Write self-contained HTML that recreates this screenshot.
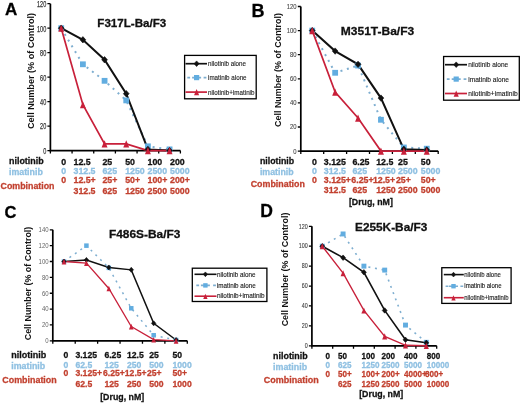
<!DOCTYPE html>
<html><head><meta charset="utf-8"><title>Nilotinib imatinib combination</title>
<style>html,body{margin:0;padding:0;background:#fff;width:520px;height:403px;overflow:hidden}svg{display:block;will-change:transform;font-family:"Liberation Sans", sans-serif}</style></head><body>
<svg width="520" height="403" viewBox="0 0 520 403">
<rect width="520" height="403" fill="#fff"/>
<g>
<text x="5" y="15" font-size="17" font-weight="bold" fill="#000" text-anchor="start" stroke="#000" stroke-width="0.28">A</text>
<text x="97.3" y="27.4" font-size="10.9" font-weight="bold" fill="#111" text-anchor="start" textLength="69" lengthAdjust="spacingAndGlyphs" stroke="#111" stroke-width="0.28">F317L-Ba/F3</text>
<text transform="translate(34.4,71) rotate(-90)" x="0" y="0" font-size="9" font-weight="bold" fill="#111" text-anchor="middle" textLength="116" lengthAdjust="spacingAndGlyphs">Cell Number (% of Control)</text>
<path d="M50.4 3.7V150.6H180.4" fill="none" stroke="#000" stroke-width="1.7"/>
<path d="M47.4 150.6H50.4M47.4 126.12H50.4M47.4 101.63H50.4M47.4 77.15H50.4M47.4 52.67H50.4M47.4 28.18H50.4M47.4 3.7H50.4M50.4 150.6V153.6M72.07 150.6V153.6M93.73 150.6V153.6M115.4 150.6V153.6M137.07 150.6V153.6M158.73 150.6V153.6M180.4 150.6V153.6" stroke="#000" stroke-width="1.3" fill="none"/>
<text x="46.2" y="153.95" font-size="9.3" font-weight="normal" fill="#333" text-anchor="end" textLength="3.07" lengthAdjust="spacingAndGlyphs" stroke="#333" stroke-width="0.25">0</text>
<text x="46.2" y="129.47" font-size="9.3" font-weight="normal" fill="#333" text-anchor="end" textLength="6.13" lengthAdjust="spacingAndGlyphs" stroke="#333" stroke-width="0.25">20</text>
<text x="46.2" y="104.98" font-size="9.3" font-weight="normal" fill="#333" text-anchor="end" textLength="6.13" lengthAdjust="spacingAndGlyphs" stroke="#333" stroke-width="0.25">40</text>
<text x="46.2" y="80.5" font-size="9.3" font-weight="normal" fill="#333" text-anchor="end" textLength="6.13" lengthAdjust="spacingAndGlyphs" stroke="#333" stroke-width="0.25">60</text>
<text x="46.2" y="56.02" font-size="9.3" font-weight="normal" fill="#333" text-anchor="end" textLength="6.13" lengthAdjust="spacingAndGlyphs" stroke="#333" stroke-width="0.25">80</text>
<text x="46.2" y="31.53" font-size="9.3" font-weight="normal" fill="#333" text-anchor="end" textLength="9.2" lengthAdjust="spacingAndGlyphs" stroke="#333" stroke-width="0.25">100</text>
<text x="46.2" y="7.05" font-size="9.3" font-weight="normal" fill="#333" text-anchor="end" textLength="9.2" lengthAdjust="spacingAndGlyphs" stroke="#333" stroke-width="0.25">120</text>
<polyline points="61.23,28.18 82.9,64.3 104.57,80.82 126.23,100.41 147.9,146.32 169.57,149.38" fill="none" stroke="#7EAED0" stroke-width="2" stroke-dasharray="2 4.7"/>
<polyline points="61.23,28.18 82.9,39.81 104.57,59.77 126.23,93.68 147.9,149.38 169.57,150.6" fill="none" stroke="#111" stroke-width="2"/>
<polyline points="61.23,28.18 82.9,104.69 104.57,143.87 126.23,143.87 147.9,150.6 169.57,150.6" fill="none" stroke="#C8203A" stroke-width="1.7"/>
<rect x="58.33" y="25.28" width="5.8" height="5.8" fill="#62ADE0"/>
<rect x="80" y="61.4" width="5.8" height="5.8" fill="#62ADE0"/>
<rect x="101.67" y="77.92" width="5.8" height="5.8" fill="#62ADE0"/>
<rect x="123.33" y="97.51" width="5.8" height="5.8" fill="#62ADE0"/>
<rect x="145" y="143.42" width="5.8" height="5.8" fill="#62ADE0"/>
<rect x="166.67" y="146.48" width="5.8" height="5.8" fill="#62ADE0"/>
<path d="M61.23 24.98L64.11 28.18L61.23 31.38L58.35 28.18Z" fill="#111" stroke="#111" stroke-width="0.6" stroke-linejoin="round"/>
<path d="M82.9 36.61L85.78 39.81L82.9 43.01L80.02 39.81Z" fill="#111" stroke="#111" stroke-width="0.6" stroke-linejoin="round"/>
<path d="M104.57 56.57L107.45 59.77L104.57 62.97L101.69 59.77Z" fill="#111" stroke="#111" stroke-width="0.6" stroke-linejoin="round"/>
<path d="M126.23 90.48L129.11 93.68L126.23 96.88L123.35 93.68Z" fill="#111" stroke="#111" stroke-width="0.6" stroke-linejoin="round"/>
<path d="M147.9 146.18L150.78 149.38L147.9 152.58L145.02 149.38Z" fill="#111" stroke="#111" stroke-width="0.6" stroke-linejoin="round"/>
<path d="M169.57 147.4L172.45 150.6L169.57 153.8L166.69 150.6Z" fill="#111" stroke="#111" stroke-width="0.6" stroke-linejoin="round"/>
<path d="M61.23 24.68L64.21 31.86L58.26 31.86Z" fill="#C8203A"/>
<path d="M82.9 101.19L85.88 108.37L79.93 108.37Z" fill="#C8203A"/>
<path d="M104.57 140.37L107.54 147.54L101.59 147.54Z" fill="#C8203A"/>
<path d="M126.23 140.37L129.21 147.54L123.26 147.54Z" fill="#C8203A"/>
<path d="M147.9 147.1L150.88 154.28L144.93 154.28Z" fill="#C8203A"/>
<path d="M169.57 147.1L172.54 154.28L166.59 154.28Z" fill="#C8203A"/>
<rect x="184.6" y="55.4" width="71.6" height="43.4" fill="#fff" stroke="#000" stroke-width="1.3"/>
<path d="M185.5 63.7H207" stroke="#111" stroke-width="1.7"/>
<path d="M196.6 60.9L199.12 63.7L196.6 66.5L194.08 63.7Z" fill="#111" stroke="#111" stroke-width="0.6" stroke-linejoin="round"/>
<path d="M187.3 77.6h2.8M192.1 77.6h9M203.6 77.6h2.8" stroke="#7EAED0" stroke-width="1.7"/>
<rect x="194" y="75" width="5.2" height="5.2" fill="#62ADE0"/>
<path d="M185.5 92.1H207" stroke="#C8203A" stroke-width="1.7"/>
<path d="M196.6 89.1L199.15 95.25L194.05 95.25Z" fill="#C8203A"/>
<text x="208" y="66.33" font-size="7.3" font-weight="normal" fill="#1a1a1a" text-anchor="start" textLength="38" lengthAdjust="spacingAndGlyphs" stroke="#1a1a1a" stroke-width="0.12">nilotinib alone</text>
<text x="208" y="80.23" font-size="7.3" font-weight="normal" fill="#1a1a1a" text-anchor="start" textLength="38.6" lengthAdjust="spacingAndGlyphs" stroke="#1a1a1a" stroke-width="0.12">imatinib alone</text>
<text x="208" y="94.73" font-size="7.3" font-weight="normal" fill="#1a1a1a" text-anchor="start" textLength="46.5" lengthAdjust="spacingAndGlyphs" stroke="#1a1a1a" stroke-width="0.12">nilotinib+imatinib</text>
<text x="9" y="164" font-size="9" font-weight="bold" fill="#111" text-anchor="start" textLength="34.7" lengthAdjust="spacingAndGlyphs" stroke="#111" stroke-width="0.28">nilotinib</text>
<text x="9" y="174.8" font-size="9" font-weight="bold" fill="#8FC0E2" text-anchor="start" textLength="33.8" lengthAdjust="spacingAndGlyphs" stroke="#8FC0E2" stroke-width="0.28">imatinib</text>
<text x="0.5" y="188.5" font-size="9" font-weight="bold" fill="#C2402F" text-anchor="start" textLength="54" lengthAdjust="spacingAndGlyphs" stroke="#C2402F" stroke-width="0.28">Combination</text>
<text x="61.3" y="164.5" font-size="8.8" font-weight="bold" fill="#111" text-anchor="start" stroke="#111" stroke-width="0.28">0</text>
<text x="73.5" y="164.5" font-size="8.8" font-weight="bold" fill="#111" text-anchor="start" stroke="#111" stroke-width="0.28">12.5</text>
<text x="102.4" y="164.5" font-size="8.8" font-weight="bold" fill="#111" text-anchor="start" stroke="#111" stroke-width="0.28">25</text>
<text x="125.2" y="164.5" font-size="8.8" font-weight="bold" fill="#111" text-anchor="start" stroke="#111" stroke-width="0.28">50</text>
<text x="147.5" y="164.5" font-size="8.8" font-weight="bold" fill="#111" text-anchor="start" stroke="#111" stroke-width="0.28">100</text>
<text x="170" y="164.5" font-size="8.8" font-weight="bold" fill="#111" text-anchor="start" stroke="#111" stroke-width="0.28">200</text>
<text x="61.3" y="174.3" font-size="8.8" font-weight="bold" fill="#8FC0E2" text-anchor="start" stroke="#8FC0E2" stroke-width="0.28">0</text>
<text x="73.5" y="174.3" font-size="8.8" font-weight="bold" fill="#8FC0E2" text-anchor="start" stroke="#8FC0E2" stroke-width="0.28">312.5</text>
<text x="102.4" y="174.3" font-size="8.8" font-weight="bold" fill="#8FC0E2" text-anchor="start" stroke="#8FC0E2" stroke-width="0.28">625</text>
<text x="125.2" y="174.3" font-size="8.8" font-weight="bold" fill="#8FC0E2" text-anchor="start" stroke="#8FC0E2" stroke-width="0.28">1250</text>
<text x="147.5" y="174.3" font-size="8.8" font-weight="bold" fill="#8FC0E2" text-anchor="start" stroke="#8FC0E2" stroke-width="0.28">2500</text>
<text x="170" y="174.3" font-size="8.8" font-weight="bold" fill="#8FC0E2" text-anchor="start" stroke="#8FC0E2" stroke-width="0.28">5000</text>
<text x="61.3" y="182.8" font-size="8.8" font-weight="bold" fill="#C2402F" text-anchor="start" stroke="#C2402F" stroke-width="0.28">0</text>
<text x="73.5" y="182.8" font-size="8.8" font-weight="bold" fill="#C2402F" text-anchor="start" stroke="#C2402F" stroke-width="0.28">12.5+</text>
<text x="102.4" y="182.8" font-size="8.8" font-weight="bold" fill="#C2402F" text-anchor="start" stroke="#C2402F" stroke-width="0.28">25+</text>
<text x="125.2" y="182.8" font-size="8.8" font-weight="bold" fill="#C2402F" text-anchor="start" stroke="#C2402F" stroke-width="0.28">50+</text>
<text x="147.5" y="182.8" font-size="8.8" font-weight="bold" fill="#C2402F" text-anchor="start" stroke="#C2402F" stroke-width="0.28">100+</text>
<text x="170" y="182.8" font-size="8.8" font-weight="bold" fill="#C2402F" text-anchor="start" stroke="#C2402F" stroke-width="0.28">200+</text>
<text x="73.5" y="193.7" font-size="8.8" font-weight="bold" fill="#C2402F" text-anchor="start" stroke="#C2402F" stroke-width="0.28">312.5</text>
<text x="102.4" y="193.7" font-size="8.8" font-weight="bold" fill="#C2402F" text-anchor="start" stroke="#C2402F" stroke-width="0.28">625</text>
<text x="125.2" y="193.7" font-size="8.8" font-weight="bold" fill="#C2402F" text-anchor="start" stroke="#C2402F" stroke-width="0.28">1250</text>
<text x="147.5" y="193.7" font-size="8.8" font-weight="bold" fill="#C2402F" text-anchor="start" stroke="#C2402F" stroke-width="0.28">2500</text>
<text x="170" y="193.7" font-size="8.8" font-weight="bold" fill="#C2402F" text-anchor="start" stroke="#C2402F" stroke-width="0.28">5000</text>
</g>
<g>
<text x="251.6" y="16.7" font-size="18" font-weight="bold" fill="#000" text-anchor="start" stroke="#000" stroke-width="0.28">B</text>
<text x="340.8" y="34.8" font-size="10.9" font-weight="bold" fill="#111" text-anchor="start" textLength="73.4" lengthAdjust="spacingAndGlyphs" stroke="#111" stroke-width="0.28">M351T-Ba/F3</text>
<text transform="translate(281.2,70) rotate(-90)" x="0" y="0" font-size="9" font-weight="bold" fill="#111" text-anchor="middle" textLength="113.8" lengthAdjust="spacingAndGlyphs">Cell Number (% of Control)</text>
<path d="M300.8 6.5V151.1H438.2" fill="none" stroke="#000" stroke-width="1.7"/>
<path d="M297.8 151.1H300.8M297.8 127H300.8M297.8 102.9H300.8M297.8 78.8H300.8M297.8 54.7H300.8M297.8 30.6H300.8M297.8 6.5H300.8M300.8 151.1V154.1M323.7 151.1V154.1M346.6 151.1V154.1M369.5 151.1V154.1M392.4 151.1V154.1M415.3 151.1V154.1M438.2 151.1V154.1" stroke="#000" stroke-width="1.3" fill="none"/>
<text x="296.6" y="153.55" font-size="7" font-weight="normal" fill="#444" text-anchor="end" textLength="3.27" lengthAdjust="spacingAndGlyphs" stroke="#444" stroke-width="0.1">0</text>
<text x="296.6" y="129.45" font-size="7" font-weight="normal" fill="#444" text-anchor="end" textLength="6.53" lengthAdjust="spacingAndGlyphs" stroke="#444" stroke-width="0.1">20</text>
<text x="296.6" y="105.35" font-size="7" font-weight="normal" fill="#444" text-anchor="end" textLength="6.53" lengthAdjust="spacingAndGlyphs" stroke="#444" stroke-width="0.1">40</text>
<text x="296.6" y="81.25" font-size="7" font-weight="normal" fill="#444" text-anchor="end" textLength="6.53" lengthAdjust="spacingAndGlyphs" stroke="#444" stroke-width="0.1">60</text>
<text x="296.6" y="57.15" font-size="7" font-weight="normal" fill="#444" text-anchor="end" textLength="6.53" lengthAdjust="spacingAndGlyphs" stroke="#444" stroke-width="0.1">80</text>
<text x="296.6" y="33.05" font-size="7" font-weight="normal" fill="#444" text-anchor="end" textLength="9.8" lengthAdjust="spacingAndGlyphs" stroke="#444" stroke-width="0.1">100</text>
<text x="296.6" y="8.95" font-size="7" font-weight="normal" fill="#444" text-anchor="end" textLength="9.8" lengthAdjust="spacingAndGlyphs" stroke="#444" stroke-width="0.1">120</text>
<polyline points="312.25,30.6 335.15,72.78 358.05,65.55 380.95,119.77 403.85,147.48 426.75,148.69" fill="none" stroke="#7EAED0" stroke-width="2" stroke-dasharray="2 4.7"/>
<polyline points="312.25,30.6 335.15,51.09 358.05,64.34 380.95,98.08 403.85,149.29 426.75,149.89" fill="none" stroke="#111" stroke-width="2"/>
<polyline points="312.25,30.6 335.15,92.06 358.05,117.96 380.95,151.1 403.85,151.1 426.75,151.1" fill="none" stroke="#C8203A" stroke-width="1.7"/>
<rect x="309.35" y="27.7" width="5.8" height="5.8" fill="#62ADE0"/>
<rect x="332.25" y="69.88" width="5.8" height="5.8" fill="#62ADE0"/>
<rect x="355.15" y="62.65" width="5.8" height="5.8" fill="#62ADE0"/>
<rect x="378.05" y="116.87" width="5.8" height="5.8" fill="#62ADE0"/>
<rect x="400.95" y="144.58" width="5.8" height="5.8" fill="#62ADE0"/>
<rect x="423.85" y="145.79" width="5.8" height="5.8" fill="#62ADE0"/>
<path d="M312.25 27.4L315.13 30.6L312.25 33.8L309.37 30.6Z" fill="#111" stroke="#111" stroke-width="0.6" stroke-linejoin="round"/>
<path d="M335.15 47.89L338.03 51.09L335.15 54.29L332.27 51.09Z" fill="#111" stroke="#111" stroke-width="0.6" stroke-linejoin="round"/>
<path d="M358.05 61.14L360.93 64.34L358.05 67.54L355.17 64.34Z" fill="#111" stroke="#111" stroke-width="0.6" stroke-linejoin="round"/>
<path d="M380.95 94.88L383.83 98.08L380.95 101.28L378.07 98.08Z" fill="#111" stroke="#111" stroke-width="0.6" stroke-linejoin="round"/>
<path d="M403.85 146.09L406.73 149.29L403.85 152.49L400.97 149.29Z" fill="#111" stroke="#111" stroke-width="0.6" stroke-linejoin="round"/>
<path d="M426.75 146.69L429.63 149.89L426.75 153.09L423.87 149.89Z" fill="#111" stroke="#111" stroke-width="0.6" stroke-linejoin="round"/>
<path d="M312.25 27.1L315.23 34.28L309.27 34.28Z" fill="#C8203A"/>
<path d="M335.15 88.56L338.12 95.73L332.17 95.73Z" fill="#C8203A"/>
<path d="M358.05 114.46L361.03 121.64L355.07 121.64Z" fill="#C8203A"/>
<path d="M380.95 147.6L383.93 154.78L377.97 154.78Z" fill="#C8203A"/>
<path d="M403.85 147.6L406.83 154.78L400.88 154.78Z" fill="#C8203A"/>
<path d="M426.75 147.6L429.73 154.78L423.77 154.78Z" fill="#C8203A"/>
<rect x="443.6" y="56.5" width="75.7" height="43.7" fill="#fff" stroke="#000" stroke-width="1.3"/>
<path d="M445 64.7H467" stroke="#111" stroke-width="1.7"/>
<path d="M456.2 61.9L458.72 64.7L456.2 67.5L453.68 64.7Z" fill="#111" stroke="#111" stroke-width="0.6" stroke-linejoin="round"/>
<path d="M446.8 79.1h2.8M451.7 79.1h9M463.6 79.1h2.8" stroke="#7EAED0" stroke-width="1.7"/>
<rect x="453.6" y="76.5" width="5.2" height="5.2" fill="#62ADE0"/>
<path d="M445 93.5H467" stroke="#C8203A" stroke-width="1.7"/>
<path d="M456.2 90.5L458.75 96.65L453.65 96.65Z" fill="#C8203A"/>
<text x="468.2" y="67.33" font-size="7.3" font-weight="normal" fill="#1a1a1a" text-anchor="start" textLength="40" lengthAdjust="spacingAndGlyphs" stroke="#1a1a1a" stroke-width="0.12">nilotinib alone</text>
<text x="468.2" y="81.73" font-size="7.3" font-weight="normal" fill="#1a1a1a" text-anchor="start" textLength="40.8" lengthAdjust="spacingAndGlyphs" stroke="#1a1a1a" stroke-width="0.12">imatinib alone</text>
<text x="468.2" y="96.13" font-size="7.3" font-weight="normal" fill="#1a1a1a" text-anchor="start" textLength="49.5" lengthAdjust="spacingAndGlyphs" stroke="#1a1a1a" stroke-width="0.12">nilotinib+imatinib</text>
<text x="259.9" y="163.8" font-size="9" font-weight="bold" fill="#111" text-anchor="start" textLength="34.3" lengthAdjust="spacingAndGlyphs" stroke="#111" stroke-width="0.28">nilotinib</text>
<text x="259.9" y="174.7" font-size="9" font-weight="bold" fill="#8FC0E2" text-anchor="start" textLength="33.7" lengthAdjust="spacingAndGlyphs" stroke="#8FC0E2" stroke-width="0.28">imatinib</text>
<text x="250.7" y="187.2" font-size="9" font-weight="bold" fill="#C2402F" text-anchor="start" textLength="54.2" lengthAdjust="spacingAndGlyphs" stroke="#C2402F" stroke-width="0.28">Combination</text>
<text x="312" y="164.6" font-size="8.8" font-weight="bold" fill="#111" text-anchor="start" stroke="#111" stroke-width="0.28">0</text>
<text x="323.8" y="164.6" font-size="8.8" font-weight="bold" fill="#111" text-anchor="start" stroke="#111" stroke-width="0.28">3.125</text>
<text x="352.4" y="164.6" font-size="8.8" font-weight="bold" fill="#111" text-anchor="start" stroke="#111" stroke-width="0.28">6.25</text>
<text x="376.2" y="164.6" font-size="8.8" font-weight="bold" fill="#111" text-anchor="start" stroke="#111" stroke-width="0.28">12.5</text>
<text x="398" y="164.6" font-size="8.8" font-weight="bold" fill="#111" text-anchor="start" stroke="#111" stroke-width="0.28">25</text>
<text x="420.8" y="164.6" font-size="8.8" font-weight="bold" fill="#111" text-anchor="start" stroke="#111" stroke-width="0.28">50</text>
<text x="312" y="173.8" font-size="8.8" font-weight="bold" fill="#8FC0E2" text-anchor="start" stroke="#8FC0E2" stroke-width="0.28">0</text>
<text x="323.8" y="173.8" font-size="8.8" font-weight="bold" fill="#8FC0E2" text-anchor="start" stroke="#8FC0E2" stroke-width="0.28">312.5</text>
<text x="352.4" y="173.8" font-size="8.8" font-weight="bold" fill="#8FC0E2" text-anchor="start" stroke="#8FC0E2" stroke-width="0.28">625</text>
<text x="376.2" y="173.8" font-size="8.8" font-weight="bold" fill="#8FC0E2" text-anchor="start" stroke="#8FC0E2" stroke-width="0.28">1250</text>
<text x="398" y="173.8" font-size="8.8" font-weight="bold" fill="#8FC0E2" text-anchor="start" stroke="#8FC0E2" stroke-width="0.28">2500</text>
<text x="420.8" y="173.8" font-size="8.8" font-weight="bold" fill="#8FC0E2" text-anchor="start" stroke="#8FC0E2" stroke-width="0.28">5000</text>
<text x="312" y="182.5" font-size="8.8" font-weight="bold" fill="#C2402F" text-anchor="start" stroke="#C2402F" stroke-width="0.28">0</text>
<text x="323.8" y="182.5" font-size="8.8" font-weight="bold" fill="#C2402F" text-anchor="start" stroke="#C2402F" stroke-width="0.28">3.125+</text>
<text x="351.3" y="182.5" font-size="8.8" font-weight="bold" fill="#C2402F" text-anchor="start" stroke="#C2402F" stroke-width="0.28">6.25+</text>
<text x="372.9" y="182.5" font-size="8.8" font-weight="bold" fill="#C2402F" text-anchor="start" stroke="#C2402F" stroke-width="0.28">12.5+</text>
<text x="395.9" y="182.5" font-size="8.8" font-weight="bold" fill="#C2402F" text-anchor="start" stroke="#C2402F" stroke-width="0.28">25+</text>
<text x="420.8" y="182.5" font-size="8.8" font-weight="bold" fill="#C2402F" text-anchor="start" stroke="#C2402F" stroke-width="0.28">50+</text>
<text x="323.8" y="193.2" font-size="8.8" font-weight="bold" fill="#C2402F" text-anchor="start" stroke="#C2402F" stroke-width="0.28">312.5</text>
<text x="352.4" y="193.2" font-size="8.8" font-weight="bold" fill="#C2402F" text-anchor="start" stroke="#C2402F" stroke-width="0.28">625</text>
<text x="376.2" y="193.2" font-size="8.8" font-weight="bold" fill="#C2402F" text-anchor="start" stroke="#C2402F" stroke-width="0.28">1250</text>
<text x="398" y="193.2" font-size="8.8" font-weight="bold" fill="#C2402F" text-anchor="start" stroke="#C2402F" stroke-width="0.28">2500</text>
<text x="420.8" y="193.2" font-size="8.8" font-weight="bold" fill="#C2402F" text-anchor="start" stroke="#C2402F" stroke-width="0.28">5000</text>
<text x="348.9" y="205" font-size="9" font-weight="bold" fill="#111" text-anchor="start" textLength="44" lengthAdjust="spacingAndGlyphs" stroke="#111" stroke-width="0.28">[Drug, nM]</text>
</g>
<g>
<text x="4.6" y="218.2" font-size="16.5" font-weight="bold" fill="#000" text-anchor="start" stroke="#000" stroke-width="0.28">C</text>
<text x="108.9" y="237.9" font-size="10.9" font-weight="bold" fill="#111" text-anchor="start" textLength="71.5" lengthAdjust="spacingAndGlyphs" stroke="#111" stroke-width="0.28">F486S-Ba/F3</text>
<text transform="translate(30.6,283.5) rotate(-90)" x="0" y="0" font-size="9" font-weight="bold" fill="#111" text-anchor="middle" textLength="113.5" lengthAdjust="spacingAndGlyphs">Cell Number (% of Control)</text>
<path d="M52.8 229.8V340.8H187.3" fill="none" stroke="#000" stroke-width="1.7"/>
<path d="M49.8 340.8H52.8M49.8 324.94H52.8M49.8 309.09H52.8M49.8 293.23H52.8M49.8 277.37H52.8M49.8 261.51H52.8M49.8 245.66H52.8M49.8 229.8H52.8M52.8 340.8V343.8M75.22 340.8V343.8M97.63 340.8V343.8M120.05 340.8V343.8M142.47 340.8V343.8M164.88 340.8V343.8M187.3 340.8V343.8" stroke="#000" stroke-width="1.3" fill="none"/>
<text x="48.6" y="343.2" font-size="6.8" font-weight="normal" fill="#666" text-anchor="end" textLength="3.33" lengthAdjust="spacingAndGlyphs">0</text>
<text x="48.6" y="327.34" font-size="6.8" font-weight="normal" fill="#666" text-anchor="end" textLength="6.67" lengthAdjust="spacingAndGlyphs">20</text>
<text x="48.6" y="311.49" font-size="6.8" font-weight="normal" fill="#666" text-anchor="end" textLength="6.67" lengthAdjust="spacingAndGlyphs">40</text>
<text x="48.6" y="295.63" font-size="6.8" font-weight="normal" fill="#666" text-anchor="end" textLength="6.67" lengthAdjust="spacingAndGlyphs">60</text>
<text x="48.6" y="279.77" font-size="6.8" font-weight="normal" fill="#666" text-anchor="end" textLength="6.67" lengthAdjust="spacingAndGlyphs">80</text>
<text x="48.6" y="263.91" font-size="6.8" font-weight="normal" fill="#666" text-anchor="end" textLength="10" lengthAdjust="spacingAndGlyphs">100</text>
<text x="48.6" y="248.06" font-size="6.8" font-weight="normal" fill="#666" text-anchor="end" textLength="10" lengthAdjust="spacingAndGlyphs">120</text>
<text x="48.6" y="232.2" font-size="6.8" font-weight="normal" fill="#666" text-anchor="end" textLength="10" lengthAdjust="spacingAndGlyphs">140</text>
<polyline points="64.01,261.51 86.42,245.66 108.84,267.86 131.26,308.29 153.68,335.25 176.09,340.01" fill="none" stroke="#7EAED0" stroke-width="1.5" stroke-dasharray="2 4.7"/>
<polyline points="64.01,261.51 86.42,259.93 108.84,267.46 131.26,269.84 153.68,323.36 176.09,340.01" fill="none" stroke="#111" stroke-width="1.5"/>
<polyline points="64.01,261.51 86.42,263.1 108.84,288.47 131.26,326.53 153.68,339.61 176.09,340.8" fill="none" stroke="#C8203A" stroke-width="1.275"/>
<rect x="61.75" y="259.25" width="4.52" height="4.52" fill="#62ADE0"/>
<rect x="84.16" y="243.4" width="4.52" height="4.52" fill="#62ADE0"/>
<rect x="106.58" y="265.6" width="4.52" height="4.52" fill="#62ADE0"/>
<rect x="129" y="306.03" width="4.52" height="4.52" fill="#62ADE0"/>
<rect x="151.41" y="332.99" width="4.52" height="4.52" fill="#62ADE0"/>
<rect x="173.83" y="337.75" width="4.52" height="4.52" fill="#62ADE0"/>
<path d="M64.01 259.02L66.25 261.51L64.01 264.01L61.76 261.51Z" fill="#111" stroke="#111" stroke-width="0.6" stroke-linejoin="round"/>
<path d="M86.42 257.43L88.67 259.93L86.42 262.42L84.18 259.93Z" fill="#111" stroke="#111" stroke-width="0.6" stroke-linejoin="round"/>
<path d="M108.84 264.96L111.09 267.46L108.84 269.96L106.6 267.46Z" fill="#111" stroke="#111" stroke-width="0.6" stroke-linejoin="round"/>
<path d="M131.26 267.34L133.5 269.84L131.26 272.34L129.01 269.84Z" fill="#111" stroke="#111" stroke-width="0.6" stroke-linejoin="round"/>
<path d="M153.68 320.86L155.92 323.36L153.68 325.85L151.43 323.36Z" fill="#111" stroke="#111" stroke-width="0.6" stroke-linejoin="round"/>
<path d="M176.09 337.51L178.34 340.01L176.09 342.5L173.85 340.01Z" fill="#111" stroke="#111" stroke-width="0.6" stroke-linejoin="round"/>
<path d="M64.01 258.78L66.33 264.38L61.69 264.38Z" fill="#C8203A"/>
<path d="M86.42 260.37L88.75 265.97L84.1 265.97Z" fill="#C8203A"/>
<path d="M108.84 285.74L111.16 291.34L106.52 291.34Z" fill="#C8203A"/>
<path d="M131.26 323.8L133.58 329.4L128.94 329.4Z" fill="#C8203A"/>
<path d="M153.68 336.88L156 342.48L151.35 342.48Z" fill="#C8203A"/>
<path d="M176.09 338.07L178.41 343.67L173.77 343.67Z" fill="#C8203A"/>
<rect x="192.3" y="268.2" width="74.6" height="33.3" fill="#fff" stroke="#000" stroke-width="1.3"/>
<path d="M194.5 274.3H216.5" stroke="#111" stroke-width="1.6"/>
<path d="M205.4 271.92L207.54 274.3L205.4 276.68L203.26 274.3Z" fill="#111" stroke="#111" stroke-width="0.6" stroke-linejoin="round"/>
<path d="M196.3 285.4h2.8M200.9 285.4h9M213.1 285.4h2.8" stroke="#7EAED0" stroke-width="1.6"/>
<rect x="203.19" y="283.19" width="4.42" height="4.42" fill="#62ADE0"/>
<path d="M194.5 296.2H216.5" stroke="#C8203A" stroke-width="1.6"/>
<path d="M205.4 293.65L207.57 298.88L203.23 298.88Z" fill="#C8203A"/>
<text x="216.9" y="276.57" font-size="6.3" font-weight="normal" fill="#1a1a1a" text-anchor="start" textLength="38.5" lengthAdjust="spacingAndGlyphs" stroke="#1a1a1a" stroke-width="0.12">nilotinib alone</text>
<text x="216.9" y="287.67" font-size="6.3" font-weight="normal" fill="#1a1a1a" text-anchor="start" textLength="38.8" lengthAdjust="spacingAndGlyphs" stroke="#1a1a1a" stroke-width="0.12">imatinib alone</text>
<text x="216.9" y="298.47" font-size="6.3" font-weight="normal" fill="#1a1a1a" text-anchor="start" textLength="47.7" lengthAdjust="spacingAndGlyphs" stroke="#1a1a1a" stroke-width="0.12">nilotinib+imatinib</text>
<text x="11.2" y="358.3" font-size="9" font-weight="bold" fill="#111" text-anchor="start" textLength="35" lengthAdjust="spacingAndGlyphs" stroke="#111" stroke-width="0.28">nilotinib</text>
<text x="11.2" y="368.8" font-size="9" font-weight="bold" fill="#8FC0E2" text-anchor="start" textLength="34" lengthAdjust="spacingAndGlyphs" stroke="#8FC0E2" stroke-width="0.28">imatinib</text>
<text x="2.3" y="382.7" font-size="9" font-weight="bold" fill="#C2402F" text-anchor="start" textLength="54.4" lengthAdjust="spacingAndGlyphs" stroke="#C2402F" stroke-width="0.28">Combination</text>
<g transform="translate(63.6,358.3) scale(0.97,1)"><text x="0" y="0" font-size="8.9" font-weight="bold" fill="#111" text-anchor="start" stroke="#111" stroke-width="0.28">0</text></g>
<g transform="translate(75.4,358.3) scale(0.97,1)"><text x="0" y="0" font-size="8.9" font-weight="bold" fill="#111" text-anchor="start" stroke="#111" stroke-width="0.28">3.125</text></g>
<g transform="translate(104.4,358.3) scale(0.97,1)"><text x="0" y="0" font-size="8.9" font-weight="bold" fill="#111" text-anchor="start" stroke="#111" stroke-width="0.28">6.25</text></g>
<g transform="translate(127,358.3) scale(0.97,1)"><text x="0" y="0" font-size="8.9" font-weight="bold" fill="#111" text-anchor="start" stroke="#111" stroke-width="0.28">12.5</text></g>
<g transform="translate(149.2,358.3) scale(0.97,1)"><text x="0" y="0" font-size="8.9" font-weight="bold" fill="#111" text-anchor="start" stroke="#111" stroke-width="0.28">25</text></g>
<g transform="translate(172.5,358.3) scale(0.97,1)"><text x="0" y="0" font-size="8.9" font-weight="bold" fill="#111" text-anchor="start" stroke="#111" stroke-width="0.28">50</text></g>
<g transform="translate(63.6,367.6) scale(0.97,1)"><text x="0" y="0" font-size="8.9" font-weight="bold" fill="#8FC0E2" text-anchor="start" stroke="#8FC0E2" stroke-width="0.28">0</text></g>
<g transform="translate(75.4,367.6) scale(0.97,1)"><text x="0" y="0" font-size="8.9" font-weight="bold" fill="#8FC0E2" text-anchor="start" stroke="#8FC0E2" stroke-width="0.28">62.5</text></g>
<g transform="translate(104.4,367.6) scale(0.97,1)"><text x="0" y="0" font-size="8.9" font-weight="bold" fill="#8FC0E2" text-anchor="start" stroke="#8FC0E2" stroke-width="0.28">125</text></g>
<g transform="translate(127,367.6) scale(0.97,1)"><text x="0" y="0" font-size="8.9" font-weight="bold" fill="#8FC0E2" text-anchor="start" stroke="#8FC0E2" stroke-width="0.28">250</text></g>
<g transform="translate(149.2,367.6) scale(0.97,1)"><text x="0" y="0" font-size="8.9" font-weight="bold" fill="#8FC0E2" text-anchor="start" stroke="#8FC0E2" stroke-width="0.28">500</text></g>
<g transform="translate(172.5,367.6) scale(0.97,1)"><text x="0" y="0" font-size="8.9" font-weight="bold" fill="#8FC0E2" text-anchor="start" stroke="#8FC0E2" stroke-width="0.28">1000</text></g>
<g transform="translate(63.6,376.2) scale(0.97,1)"><text x="0" y="0" font-size="8.9" font-weight="bold" fill="#C2402F" text-anchor="start" stroke="#C2402F" stroke-width="0.28">0</text></g>
<g transform="translate(75.4,376.2) scale(0.97,1)"><text x="0" y="0" font-size="8.9" font-weight="bold" fill="#C2402F" text-anchor="start" stroke="#C2402F" stroke-width="0.28">3.125+</text></g>
<g transform="translate(103,376.2) scale(0.97,1)"><text x="0" y="0" font-size="8.9" font-weight="bold" fill="#C2402F" text-anchor="start" stroke="#C2402F" stroke-width="0.28">6.25+</text></g>
<g transform="translate(124.8,376.2) scale(0.97,1)"><text x="0" y="0" font-size="8.9" font-weight="bold" fill="#C2402F" text-anchor="start" stroke="#C2402F" stroke-width="0.28">12.5+</text></g>
<g transform="translate(146.9,376.2) scale(0.97,1)"><text x="0" y="0" font-size="8.9" font-weight="bold" fill="#C2402F" text-anchor="start" stroke="#C2402F" stroke-width="0.28">25+</text></g>
<g transform="translate(172.5,376.2) scale(0.97,1)"><text x="0" y="0" font-size="8.9" font-weight="bold" fill="#C2402F" text-anchor="start" stroke="#C2402F" stroke-width="0.28">50+</text></g>
<g transform="translate(75.4,387) scale(0.97,1)"><text x="0" y="0" font-size="8.9" font-weight="bold" fill="#C2402F" text-anchor="start" stroke="#C2402F" stroke-width="0.28">62.5</text></g>
<g transform="translate(104.4,387) scale(0.97,1)"><text x="0" y="0" font-size="8.9" font-weight="bold" fill="#C2402F" text-anchor="start" stroke="#C2402F" stroke-width="0.28">125</text></g>
<g transform="translate(127,387) scale(0.97,1)"><text x="0" y="0" font-size="8.9" font-weight="bold" fill="#C2402F" text-anchor="start" stroke="#C2402F" stroke-width="0.28">250</text></g>
<g transform="translate(149.2,387) scale(0.97,1)"><text x="0" y="0" font-size="8.9" font-weight="bold" fill="#C2402F" text-anchor="start" stroke="#C2402F" stroke-width="0.28">500</text></g>
<g transform="translate(172.5,387) scale(0.97,1)"><text x="0" y="0" font-size="8.9" font-weight="bold" fill="#C2402F" text-anchor="start" stroke="#C2402F" stroke-width="0.28">1000</text></g>
<text x="100.2" y="400.4" font-size="9" font-weight="bold" fill="#111" text-anchor="start" textLength="44" lengthAdjust="spacingAndGlyphs" stroke="#111" stroke-width="0.28">[Drug, nM]</text>
</g>
<g>
<text x="260.2" y="216.9" font-size="17.5" font-weight="bold" fill="#000" text-anchor="start" stroke="#000" stroke-width="0.28">D</text>
<text x="355" y="230.8" font-size="10.9" font-weight="bold" fill="#111" text-anchor="start" textLength="72.3" lengthAdjust="spacingAndGlyphs" stroke="#111" stroke-width="0.28">E255K-Ba/F3</text>
<text transform="translate(288,269.5) rotate(-90)" x="0" y="0" font-size="9" font-weight="bold" fill="#111" text-anchor="middle" textLength="113.7" lengthAdjust="spacingAndGlyphs">Cell Number (% of Control)</text>
<path d="M311.9 226.3V345.8H436.7" fill="none" stroke="#000" stroke-width="1.7"/>
<path d="M308.9 345.8H311.9M308.9 325.88H311.9M308.9 305.97H311.9M308.9 286.05H311.9M308.9 266.13H311.9M308.9 246.22H311.9M308.9 226.3H311.9M311.9 345.8V348.8M332.7 345.8V348.8M353.5 345.8V348.8M374.3 345.8V348.8M395.1 345.8V348.8M415.9 345.8V348.8M436.7 345.8V348.8" stroke="#000" stroke-width="1.3" fill="none"/>
<text x="307.7" y="348.05" font-size="6.4" font-weight="normal" fill="#3c3c3c" text-anchor="end" textLength="2.97" lengthAdjust="spacingAndGlyphs" stroke="#3c3c3c" stroke-width="0.1">0</text>
<text x="307.7" y="328.13" font-size="6.4" font-weight="normal" fill="#3c3c3c" text-anchor="end" textLength="5.93" lengthAdjust="spacingAndGlyphs" stroke="#3c3c3c" stroke-width="0.1">20</text>
<text x="307.7" y="308.22" font-size="6.4" font-weight="normal" fill="#3c3c3c" text-anchor="end" textLength="5.93" lengthAdjust="spacingAndGlyphs" stroke="#3c3c3c" stroke-width="0.1">40</text>
<text x="307.7" y="288.3" font-size="6.4" font-weight="normal" fill="#3c3c3c" text-anchor="end" textLength="5.93" lengthAdjust="spacingAndGlyphs" stroke="#3c3c3c" stroke-width="0.1">60</text>
<text x="307.7" y="268.38" font-size="6.4" font-weight="normal" fill="#3c3c3c" text-anchor="end" textLength="5.93" lengthAdjust="spacingAndGlyphs" stroke="#3c3c3c" stroke-width="0.1">80</text>
<text x="307.7" y="248.47" font-size="6.4" font-weight="normal" fill="#3c3c3c" text-anchor="end" textLength="8.9" lengthAdjust="spacingAndGlyphs" stroke="#3c3c3c" stroke-width="0.1">100</text>
<text x="307.7" y="228.55" font-size="6.4" font-weight="normal" fill="#3c3c3c" text-anchor="end" textLength="8.9" lengthAdjust="spacingAndGlyphs" stroke="#3c3c3c" stroke-width="0.1">120</text>
<polyline points="322.3,246.22 343.1,233.97 363.9,266.13 384.7,270.12 405.5,325.09 426.3,342.31" fill="none" stroke="#7EAED0" stroke-width="1.6" stroke-dasharray="2 4.7"/>
<polyline points="322.3,246.22 343.1,257.67 363.9,272.31 384.7,310.45 405.5,339.82 426.3,342.81" fill="none" stroke="#111" stroke-width="1.6"/>
<polyline points="322.3,246.22 343.1,273.1 363.9,310.45 384.7,336.34 405.5,345.3 426.3,345.8" fill="none" stroke="#C8203A" stroke-width="1.36"/>
<rect x="319.83" y="243.75" width="4.93" height="4.93" fill="#62ADE0"/>
<rect x="340.63" y="231.5" width="4.93" height="4.93" fill="#62ADE0"/>
<rect x="361.44" y="263.67" width="4.93" height="4.93" fill="#62ADE0"/>
<rect x="382.24" y="267.65" width="4.93" height="4.93" fill="#62ADE0"/>
<rect x="403.04" y="322.62" width="4.93" height="4.93" fill="#62ADE0"/>
<rect x="423.83" y="339.85" width="4.93" height="4.93" fill="#62ADE0"/>
<path d="M322.3 243.5L324.75 246.22L322.3 248.94L319.85 246.22Z" fill="#111" stroke="#111" stroke-width="0.6" stroke-linejoin="round"/>
<path d="M343.1 254.95L345.55 257.67L343.1 260.39L340.65 257.67Z" fill="#111" stroke="#111" stroke-width="0.6" stroke-linejoin="round"/>
<path d="M363.9 269.59L366.35 272.31L363.9 275.03L361.45 272.31Z" fill="#111" stroke="#111" stroke-width="0.6" stroke-linejoin="round"/>
<path d="M384.7 307.73L387.15 310.45L384.7 313.17L382.25 310.45Z" fill="#111" stroke="#111" stroke-width="0.6" stroke-linejoin="round"/>
<path d="M405.5 337.1L407.95 339.82L405.5 342.55L403.05 339.82Z" fill="#111" stroke="#111" stroke-width="0.6" stroke-linejoin="round"/>
<path d="M426.3 340.09L428.75 342.81L426.3 345.53L423.85 342.81Z" fill="#111" stroke="#111" stroke-width="0.6" stroke-linejoin="round"/>
<path d="M322.3 243.24L324.83 249.34L319.77 249.34Z" fill="#C8203A"/>
<path d="M343.1 270.13L345.63 276.23L340.57 276.23Z" fill="#C8203A"/>
<path d="M363.9 307.47L366.43 313.57L361.37 313.57Z" fill="#C8203A"/>
<path d="M384.7 333.36L387.23 339.46L382.17 339.46Z" fill="#C8203A"/>
<path d="M405.5 342.33L408.03 348.43L402.97 348.43Z" fill="#C8203A"/>
<path d="M426.3 342.82L428.83 348.92L423.77 348.92Z" fill="#C8203A"/>
<rect x="441.8" y="267.7" width="69.3" height="35.7" fill="#fff" stroke="#000" stroke-width="1.3"/>
<path d="M443.8 274.6H463.8" stroke="#111" stroke-width="1.6"/>
<path d="M453.5 272.22L455.64 274.6L453.5 276.98L451.36 274.6Z" fill="#111" stroke="#111" stroke-width="0.6" stroke-linejoin="round"/>
<path d="M445.6 286.2h2.8M449 286.2h9M460.4 286.2h2.8" stroke="#7EAED0" stroke-width="1.6"/>
<rect x="451.29" y="283.99" width="4.42" height="4.42" fill="#62ADE0"/>
<path d="M443.8 297.7H463.8" stroke="#C8203A" stroke-width="1.6"/>
<path d="M453.5 295.15L455.67 300.38L451.33 300.38Z" fill="#C8203A"/>
<text x="464.3" y="276.87" font-size="6.3" font-weight="normal" fill="#1a1a1a" text-anchor="start" textLength="36.5" lengthAdjust="spacingAndGlyphs" stroke="#1a1a1a" stroke-width="0.12">nilotinib alone</text>
<text x="464.3" y="288.47" font-size="6.3" font-weight="normal" fill="#1a1a1a" text-anchor="start" textLength="37.2" lengthAdjust="spacingAndGlyphs" stroke="#1a1a1a" stroke-width="0.12">imatinib alone</text>
<text x="464.3" y="299.97" font-size="6.3" font-weight="normal" fill="#1a1a1a" text-anchor="start" textLength="44.2" lengthAdjust="spacingAndGlyphs" stroke="#1a1a1a" stroke-width="0.12">nilotinib+imatinib</text>
<text x="273.1" y="358.8" font-size="9" font-weight="bold" fill="#111" text-anchor="start" textLength="34.6" lengthAdjust="spacingAndGlyphs" stroke="#111" stroke-width="0.28">nilotinib</text>
<text x="273.1" y="369.6" font-size="9" font-weight="bold" fill="#8FC0E2" text-anchor="start" textLength="34" lengthAdjust="spacingAndGlyphs" stroke="#8FC0E2" stroke-width="0.28">imatinib</text>
<text x="263.8" y="382.5" font-size="9" font-weight="bold" fill="#C2402F" text-anchor="start" textLength="54.9" lengthAdjust="spacingAndGlyphs" stroke="#C2402F" stroke-width="0.28">Combination</text>
<g transform="translate(325.6,359.1) scale(0.92,1)"><text x="0" y="0" font-size="8.8" font-weight="bold" fill="#111" text-anchor="start" stroke="#111" stroke-width="0.28">0</text></g>
<g transform="translate(337.9,359.1) scale(0.92,1)"><text x="0" y="0" font-size="8.8" font-weight="bold" fill="#111" text-anchor="start" stroke="#111" stroke-width="0.28">50</text></g>
<g transform="translate(361.6,359.1) scale(0.92,1)"><text x="0" y="0" font-size="8.8" font-weight="bold" fill="#111" text-anchor="start" stroke="#111" stroke-width="0.28">100</text></g>
<g transform="translate(381.5,359.1) scale(0.92,1)"><text x="0" y="0" font-size="8.8" font-weight="bold" fill="#111" text-anchor="start" stroke="#111" stroke-width="0.28">200</text></g>
<g transform="translate(404,359.1) scale(0.92,1)"><text x="0" y="0" font-size="8.8" font-weight="bold" fill="#111" text-anchor="start" stroke="#111" stroke-width="0.28">400</text></g>
<g transform="translate(426.8,359.1) scale(0.92,1)"><text x="0" y="0" font-size="8.8" font-weight="bold" fill="#111" text-anchor="start" stroke="#111" stroke-width="0.28">800</text></g>
<g transform="translate(325.6,368) scale(0.92,1)"><text x="0" y="0" font-size="8.8" font-weight="bold" fill="#8FC0E2" text-anchor="start" stroke="#8FC0E2" stroke-width="0.28">0</text></g>
<g transform="translate(337.9,368) scale(0.92,1)"><text x="0" y="0" font-size="8.8" font-weight="bold" fill="#8FC0E2" text-anchor="start" stroke="#8FC0E2" stroke-width="0.28">625</text></g>
<g transform="translate(361.6,368) scale(0.92,1)"><text x="0" y="0" font-size="8.8" font-weight="bold" fill="#8FC0E2" text-anchor="start" stroke="#8FC0E2" stroke-width="0.28">1250</text></g>
<g transform="translate(381.5,368) scale(0.92,1)"><text x="0" y="0" font-size="8.8" font-weight="bold" fill="#8FC0E2" text-anchor="start" stroke="#8FC0E2" stroke-width="0.28">2500</text></g>
<g transform="translate(404,368) scale(0.92,1)"><text x="0" y="0" font-size="8.8" font-weight="bold" fill="#8FC0E2" text-anchor="start" stroke="#8FC0E2" stroke-width="0.28">5000</text></g>
<g transform="translate(426.8,368) scale(0.92,1)"><text x="0" y="0" font-size="8.8" font-weight="bold" fill="#8FC0E2" text-anchor="start" stroke="#8FC0E2" stroke-width="0.28">10000</text></g>
<g transform="translate(325.6,376.7) scale(0.92,1)"><text x="0" y="0" font-size="8.8" font-weight="bold" fill="#C2402F" text-anchor="start" stroke="#C2402F" stroke-width="0.28">0</text></g>
<g transform="translate(337.9,376.7) scale(0.92,1)"><text x="0" y="0" font-size="8.8" font-weight="bold" fill="#C2402F" text-anchor="start" stroke="#C2402F" stroke-width="0.28">50+</text></g>
<g transform="translate(361.6,376.7) scale(0.92,1)"><text x="0" y="0" font-size="8.8" font-weight="bold" fill="#C2402F" text-anchor="start" stroke="#C2402F" stroke-width="0.28">100+</text></g>
<g transform="translate(381.5,376.7) scale(0.92,1)"><text x="0" y="0" font-size="8.8" font-weight="bold" fill="#C2402F" text-anchor="start" stroke="#C2402F" stroke-width="0.28">200+</text></g>
<g transform="translate(404,376.7) scale(0.92,1)"><text x="0" y="0" font-size="8.8" font-weight="bold" fill="#C2402F" text-anchor="start" stroke="#C2402F" stroke-width="0.28">4000+</text></g>
<g transform="translate(425,376.7) scale(0.92,1)"><text x="0" y="0" font-size="8.8" font-weight="bold" fill="#C2402F" text-anchor="start" stroke="#C2402F" stroke-width="0.28">800+</text></g>
<g transform="translate(337.9,387.3) scale(0.92,1)"><text x="0" y="0" font-size="8.8" font-weight="bold" fill="#C2402F" text-anchor="start" stroke="#C2402F" stroke-width="0.28">625</text></g>
<g transform="translate(361.6,387.3) scale(0.92,1)"><text x="0" y="0" font-size="8.8" font-weight="bold" fill="#C2402F" text-anchor="start" stroke="#C2402F" stroke-width="0.28">1250</text></g>
<g transform="translate(381.5,387.3) scale(0.92,1)"><text x="0" y="0" font-size="8.8" font-weight="bold" fill="#C2402F" text-anchor="start" stroke="#C2402F" stroke-width="0.28">2500</text></g>
<g transform="translate(404,387.3) scale(0.92,1)"><text x="0" y="0" font-size="8.8" font-weight="bold" fill="#C2402F" text-anchor="start" stroke="#C2402F" stroke-width="0.28">5000</text></g>
<g transform="translate(426.8,387.3) scale(0.92,1)"><text x="0" y="0" font-size="8.8" font-weight="bold" fill="#C2402F" text-anchor="start" stroke="#C2402F" stroke-width="0.28">10000</text></g>
<text x="359.2" y="397" font-size="9" font-weight="bold" fill="#111" text-anchor="start" textLength="44" lengthAdjust="spacingAndGlyphs" stroke="#111" stroke-width="0.28">[Drug, nM]</text>
</g>
</svg></body></html>
